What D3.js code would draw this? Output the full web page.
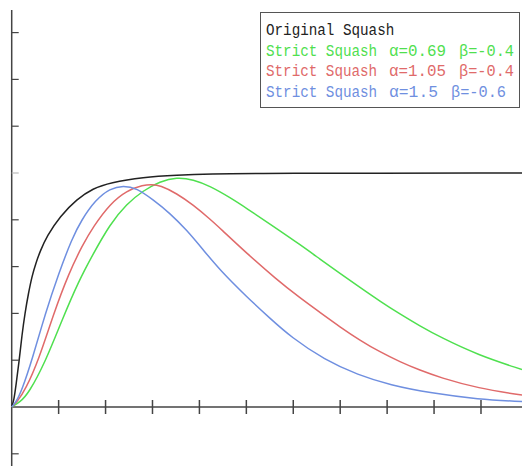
<!DOCTYPE html>
<html>
<head>
<meta charset="utf-8">
<script src="https://cdn.jsdelivr.net/npm/d3@7"></script>
<style>
  body { margin: 0; background: #fff; }
  svg { display: block; }
</style>
</head>
<body>
<script>
// dati (x in unita' di tick, y con 1 = asintoto)
const originalSquash = [
  [0, 0], [0.049, 0.03], [0.092, 0.094], [0.156, 0.192], [0.219, 0.308], [0.283, 0.402],
  [0.358, 0.487], [0.433, 0.56], [0.518, 0.617], [0.609, 0.667], [0.752, 0.731],
  [1.029, 0.815], [1.391, 0.889], [1.732, 0.934], [2.095, 0.959], [2.798, 0.982],
  [3.522, 0.991], [4.225, 0.996], [5.291, 0.999], [10.874, 1.0]
];
const strictA069 = [
  [0, 0], [0.177, 0.021], [0.362, 0.059], [0.716, 0.192], [1.072, 0.372], [1.428, 0.538],
  [1.711, 0.645], [2.095, 0.782], [2.45, 0.868], [2.804, 0.925], [3.16, 0.964],
  [3.516, 0.982], [3.87, 0.972], [4.225, 0.944], [4.652, 0.895], [5.007, 0.849],
  [5.574, 0.772], [6.143, 0.694], [6.57, 0.632], [6.996, 0.571], [7.422, 0.511],
  [7.848, 0.452], [8.274, 0.397], [8.7, 0.346], [9.126, 0.299], [9.936, 0.222],
  [10.874, 0.16]
];
const strictA105 = [
  [0, 0], [0.113, 0.021], [0.29, 0.073], [0.575, 0.201], [0.895, 0.4], [1.215, 0.571],
  [1.509, 0.692], [1.739, 0.771], [2.095, 0.868], [2.45, 0.925], [2.804, 0.949],
  [2.99, 0.951], [3.16, 0.947], [3.516, 0.913], [3.87, 0.863], [4.225, 0.803],
  [4.439, 0.764], [5.007, 0.657], [5.632, 0.547], [6.143, 0.466], [6.57, 0.404],
  [6.996, 0.342], [7.422, 0.285], [7.848, 0.235], [8.274, 0.193], [8.7, 0.157],
  [9.126, 0.126], [9.936, 0.08], [10.874, 0.051]
];
const strictA15 = [
  [0, 0], [0.092, 0.021], [0.219, 0.073], [0.433, 0.201], [0.716, 0.4], [1.002, 0.571],
  [1.285, 0.72], [1.487, 0.799], [1.786, 0.885], [2.095, 0.934], [2.378, 0.947],
  [2.664, 0.935], [3.017, 0.885], [3.373, 0.828], [3.729, 0.756], [4.083, 0.671],
  [4.439, 0.585], [5.007, 0.471], [5.504, 0.379], [5.951, 0.299], [6.67, 0.201],
  [7.379, 0.137], [8.061, 0.094], [8.941, 0.059], [9.936, 0.033], [10.874, 0.023]
];

const xTicks = [1, 2, 3, 4, 5, 6, 7, 8, 9, 10];
const yTicks = [-0.2, 0.2, 0.4, 0.6, 0.8, 1.0, 1.2, 1.4, 1.6];

const legendLabels = ["Original Squash", "Strict Squash", "Strict Squash", "Strict Squash"];
const legendAlpha = [null, "α=0.69", "α=1.05", "α=1.5"];
const legendBeta = [null, "β=-0.4", "β=-0.4", "β=-0.6"];
const colors = ["#222222", "#4fe04f", "#e06a6a", "#6f8fe0"];
const seriesList = [originalSquash, strictA069, strictA105, strictA15];

const width = 522, height = 466;

const x = d3.scaleLinear().domain([0, 10.874]).range([11.7, 522]);
const y = d3.scaleLinear().domain([0, 1]).range([407, 173]);

const svg = d3.select("body")
  .append("svg")
  .attr("width", width)
  .attr("height", height);

// assi
svg.append("line")
  .attr("x1", x(0)).attr("x2", x(0))
  .attr("y1", 10).attr("y2", height)
  .attr("stroke", "#444").attr("stroke-width", 1.5);

svg.append("line")
  .attr("x1", x(0)).attr("x2", width)
  .attr("y1", y(0)).attr("y2", y(0))
  .attr("stroke", "#444").attr("stroke-width", 1.5);

svg.selectAll(".xtick")
  .data(xTicks)
  .join("line")
  .attr("class", "xtick")
  .attr("x1", (d) => x(d)).attr("x2", (d) => x(d))
  .attr("y1", y(0) - 7).attr("y2", y(0) + 7)
  .attr("stroke", "#444").attr("stroke-width", 1.5);

svg.selectAll(".ytick")
  .data(yTicks)
  .join("line")
  .attr("class", "ytick")
  .attr("x1", x(0)).attr("x2", x(0) + 7)
  .attr("y1", (d) => y(d)).attr("y2", (d) => y(d))
  .attr("stroke", (d) => (d === 1.0 ? "#bbb" : "#444"))
  .attr("stroke-width", 1.2);

// curve (basis per lisciare le letture)
const line = d3.line()
  .x((d) => x(d[0]))
  .y((d) => y(d[1]))
  .curve(d3.curveBasis);

svg.selectAll(".serie")
  .data(seriesList)
  .join("path")
  .attr("class", "serie")
  .attr("d", line)
  .attr("fill", "none")
  .attr("stroke", (d, i) => colors[i])
  .attr("stroke-width", 1.5);

// legenda
svg.append("rect")
  .attr("x", 260.5).attr("y", 12.5)
  .attr("width", 259).attr("height", 95)
  .attr("fill", "#fff")
  .attr("stroke", "#555")
  .attr("stroke-width", 1);

const legend = svg.selectAll(".leg")
  .data(legendLabels)
  .join("text")
  .attr("class", "leg")
  .attr("y", (d, i) => 35 + i * 20.5)
  .attr("fill", (d, i) => colors[i])
  .style("font-family", "'Liberation Mono', 'DejaVu Sans Mono', monospace")
  .style("font-size", "16px");

legend.append("tspan")
  .attr("x", 266)
  .attr("textLength", (d) => d.length * 8.55)
  .attr("lengthAdjust", "spacingAndGlyphs")
  .text((d) => d);
legend.filter((d, i) => legendAlpha[i])
  .append("tspan")
  .attr("x", 389)
  .attr("textLength", (d, i) => (i === 2 ? 49 : 57))
  .attr("lengthAdjust", "spacingAndGlyphs")
  .text((d, i) => legendAlpha[i + 1]);
legend.filter((d, i) => legendBeta[i])
  .append("tspan")
  .attr("x", (d, i) => (i === 2 ? 451 : 459))
  .attr("textLength", 55)
  .attr("lengthAdjust", "spacingAndGlyphs")
  .text((d, i) => legendBeta[i + 1]);
</script>
</body>
</html>
